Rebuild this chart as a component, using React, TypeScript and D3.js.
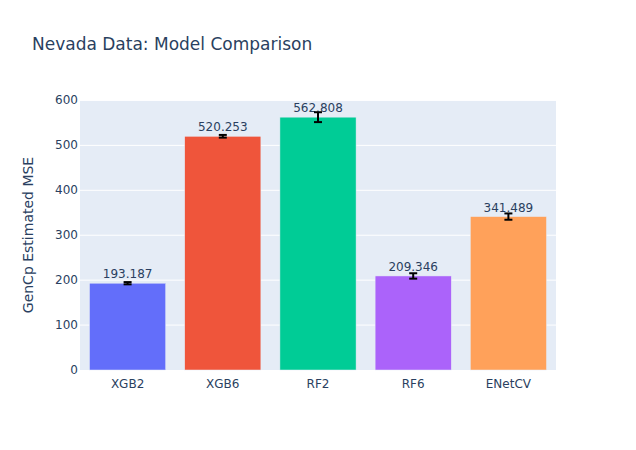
import { scaleBand, scaleLinear } from "d3";

const models = ["XGB2", "XGB6", "RF2", "RF6", "ENetCV"];
const mse = [193.187, 520.253, 562.808, 209.346, 341.489];
const mseErr = [2.5, 3, 11, 6, 7];
const yTicks = [0, 100, 200, 300, 400, 500, 600];
const colors = ["#636efa", "#EF553B", "#00cc96", "#ab63fa", "#FFA15A"];

const W = 636;
const H = 450;
const margin = { l: 80, r: 80, t: 100, b: 80 };
const font = '"DejaVu Sans", Verdana, sans-serif';
const ink = "#2a3f5f";

const App = () => {
  const pw = W - margin.l - margin.r;
  const ph = H - margin.t - margin.b;

  const xScale = scaleBand().domain(models).range([0, pw]).paddingInner(0.2).paddingOuter(0.1);
  const yScale = scaleLinear().domain([0, 601]).range([ph, 0]);

  return (
    <svg width={W} height={H} style={{ display: "block", position: "absolute", left: 0, top: 0 }} fontFamily={font}>
      <rect width={W} height={H} fill="#fff" />
      <g transform={`translate(${margin.l},${margin.t})`}>
        <rect width={pw} height={ph} fill="#E5ECF6" />
        {yTicks.slice(1).map((t) => (
          <line key={t} x1={0} x2={pw} y1={yScale(t)} y2={yScale(t)} stroke="#fff" strokeWidth={1} />
        ))}
        {models.map((m, i) => {
          const x = xScale(m)!;
          const bw = xScale.bandwidth();
          const y = yScale(mse[i]);
          const cx = x + bw / 2;
          const yHi = yScale(mse[i] + mseErr[i]);
          const yLo = yScale(mse[i] - mseErr[i]);
          return (
            <g key={m}>
              <rect x={x} y={y} width={bw} height={ph - y} fill={colors[i]} stroke="#E5ECF6" strokeWidth={0.5} />
              <text x={cx} y={y - 5} textAnchor="middle" fontSize={12} fill={ink}>
                {mse[i].toFixed(3)}
              </text>
              <g stroke="#000" strokeWidth={2}>
                <line x1={cx} x2={cx} y1={yHi} y2={yLo} />
                <line x1={cx - 4} x2={cx + 4} y1={yHi} y2={yHi} />
                <line x1={cx - 4} x2={cx + 4} y1={yLo} y2={yLo} />
              </g>
              <text x={cx} y={ph + 18} textAnchor="middle" fontSize={12} fill={ink}>
                {m}
              </text>
            </g>
          );
        })}
        {yTicks.map((t) => (
          <text key={t} x={-2} y={yScale(t) + 4} textAnchor="end" fontSize={12} fill={ink}>
            {t}
          </text>
        ))}
        <text
          transform={`translate(${-47},${ph / 2}) rotate(-90)`}
          textAnchor="middle"
          fontSize={14}
          fill={ink}
        >
          GenCp Estimated MSE
        </text>
      </g>
      <text x={32} y={50} fontSize={17} fill={ink}>
        Nevada Data: Model Comparison
      </text>
    </svg>
  );
};

export default App;
